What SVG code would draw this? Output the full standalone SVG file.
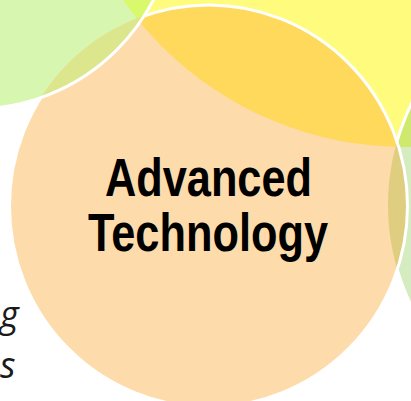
<svg xmlns="http://www.w3.org/2000/svg" width="411" height="401" viewBox="0 0 411 401">
  <style>
    .edge { fill: none; stroke: #ffffff; stroke-width: 3; }
    .title { font-family: "Liberation Sans", Arial, sans-serif; font-weight: bold; font-size: 53px; fill: #000000; text-anchor: middle; }
    .side { font-family: "Open Sans", "DejaVu Sans", sans-serif; font-style: italic; font-size: 36px; fill: #1a1a1a; }
  </style>
  <defs>
    <circle id="shY" cx="405" cy="-197" r="344"/>
    <circle id="shG1" cx="-26" cy="-93" r="202"/>
    <circle id="shG2" cx="618" cy="205" r="230"/>
    <ellipse id="shP" cx="208.5" cy="206" rx="199" ry="201"/>
    <clipPath id="clipP"><use href="#shP"/></clipPath>
    <clipPath id="clipY"><use href="#shY"/></clipPath>
    <clipPath id="clipG1"><use href="#shG1"/></clipPath>
    <mask id="notG1" maskUnits="userSpaceOnUse" x="0" y="0" width="411" height="401">
      <rect x="0" y="0" width="411" height="401" fill="#ffffff"/>
      <use href="#shG1" fill="#000000"/>
    </mask>
    <mask id="notP" maskUnits="userSpaceOnUse" x="0" y="0" width="411" height="401">
      <rect x="0" y="0" width="411" height="401" fill="#ffffff"/>
      <use href="#shP" fill="#000000"/>
    </mask>
  </defs>

  <g id="node-yellow">
    <use href="#shY" fill="#FFFC7D"/>
  </g>
  <g id="node-green-left">
    <use href="#shG1" fill="#D7F7B1"/>
  </g>
  <g id="node-green-right">
    <use href="#shG2" fill="#D5EBC0"/>
  </g>
  <g id="node-advanced-technology">
    <use href="#shP" fill="#FDDBAB"/>
  </g>

  <g id="overlaps">
    <use href="#shY" fill="#FFD95B" clip-path="url(#clipP)"/>
    <use href="#shG1" fill="#D9F86C" clip-path="url(#clipY)"/>
    <use href="#shG1" fill="#DCE68C" clip-path="url(#clipP)"/>
    <use href="#shG2" fill="#CFE86E" clip-path="url(#clipY)"/>
    <use href="#shG2" fill="#DFCD80" clip-path="url(#clipP)"/>
  </g>

  <g id="connectors">
    <use href="#shG2" class="edge" mask="url(#notP)"/>
    <use href="#shP" class="edge" mask="url(#notG1)"/>
    <use href="#shG1" class="edge"/>
  </g>

  <g id="labels">
    <text class="title" x="208.5" y="196" textLength="207" lengthAdjust="spacingAndGlyphs">Advanced</text>
    <text class="title" x="208" y="251" textLength="240" lengthAdjust="spacingAndGlyphs">Technology</text>
    <text class="side" x="0" y="327">g</text>
    <text class="side" x="0" y="378">s</text>
  </g>
</svg>
